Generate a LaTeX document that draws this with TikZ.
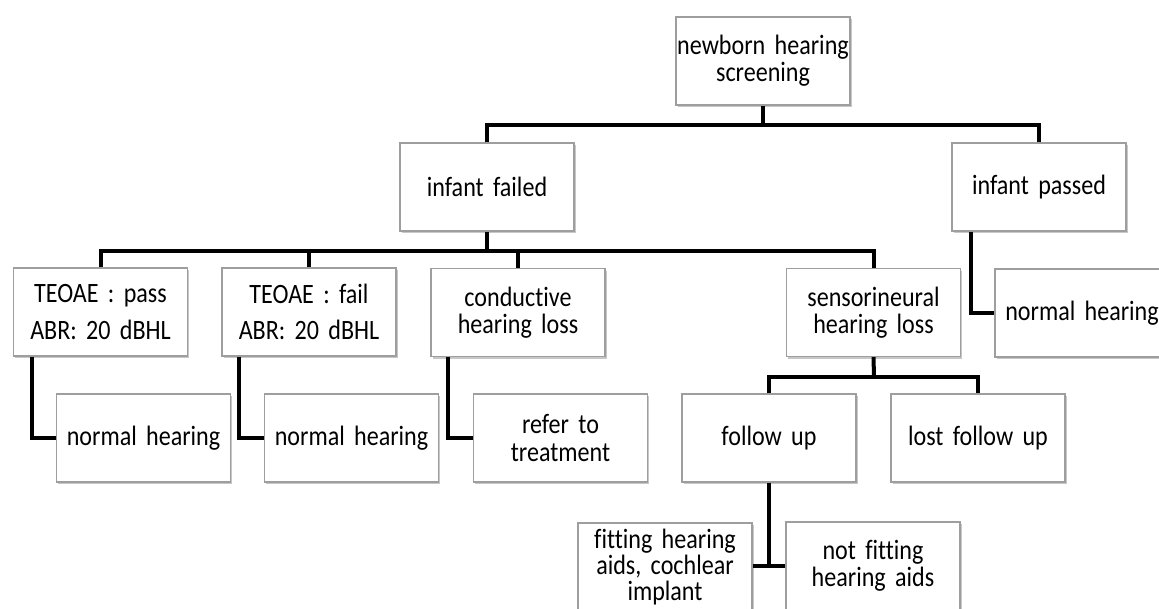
\documentclass[tikz,border=0pt]{standalone}
\usepackage{fontspec}
\setmainfont{Carlito}[Ligatures=NoCommon,FakeStretch=0.86]
\usetikzlibrary{shadows}
\newcommand{\boxfont}[1]{\fontsize{21}{#1}\selectfont\fontdimen2\font=0.11em\relax}
\begin{document}
\begin{tikzpicture}[x=0.75pt,y=-0.75pt,
  box/.style={draw=black!38,line width=0.9pt,fill=white,
    minimum width=130.5pt,minimum height=66pt,inner sep=0pt,
    text width=130pt,align=center,
    font=\boxfont{20.3pt},
    drop shadow={shadow xshift=1.2pt,shadow yshift=-1.8pt,fill=black,opacity=0.22}},
  conn/.style={line width=3pt,black,line join=miter,line cap=butt}]
\useasboundingbox (0,0) rectangle (1159,608);
% nodes
\node[box] (nb) at (763,61) {newborn hearing\\screening};
\node[box] (fail) at (487,187) {infant failed};
\node[box] (pass) at (1039,187) {infant passed};
\node[box] (tp) at (100.5,312) {TEOAE : pass\\[7pt]ABR: 20 dBHL};
\node[box] (tf) at (309,312) {TEOAE : fail\\[7pt]ABR: 20 dBHL};
\node[box] (cond) at (518,312.5) {conductive\\hearing loss};
\node[box] (sens) at (873.5,312.5) {sensorineural\\hearing loss};
\node[box] (nh3) at (1082,313) {normal hearing};
\node[box] (nh1) at (143.5,438) {normal hearing};
\node[box] (nh2) at (351.5,438) {normal hearing};
\node[box] (refer) at (560.5,438) {refer to\\treatment};
\node[box] (fu) at (769,438) {follow up};
\node[box] (lost) at (978,438) {lost follow up};
\node[box,font=\boxfont{19.5pt}] (fit) at (665,567) {fitting hearing\\aids, cochlear\\implant};
\node[box] (notfit) at (873,566) {not fitting\\hearing aids};
% junctions
\coordinate (j1) at (763,125);
\coordinate (j2) at (487,251);
\coordinate (j3) at (874,377);
% connectors
\draw[conn] (nb.south) -- (j1);
\draw[conn] (fail.north) |- (j1) -| (pass.north);
\draw[conn] (fail.south) -- (j2);
\draw[conn] (tp.north) |- (j2) -| (sens.north);
\draw[conn] (tf.north) -- (tf.north |- j2);
\draw[conn] (cond.north) -- (cond.north |- j2);
\draw[conn] (sens.south) -- (j3);
\draw[conn] (fu.north) |- (j3) -| (lost.north);
\draw[conn] ([xshift=14pt]tp.south west) |- (nh1.west);
\draw[conn] ([xshift=13.5pt]tf.south west) |- (nh2.west);
\draw[conn] ([xshift=13.5pt]cond.south west) |- (refer.west);
\draw[conn] ([xshift=15pt]pass.south west) |- (nh3.west);
\draw[conn] (fu.south) -- (fu.south |- notfit.west);
\draw[conn] (fit.east |- notfit.west) -- (notfit.west);
\end{tikzpicture}
\end{document}
